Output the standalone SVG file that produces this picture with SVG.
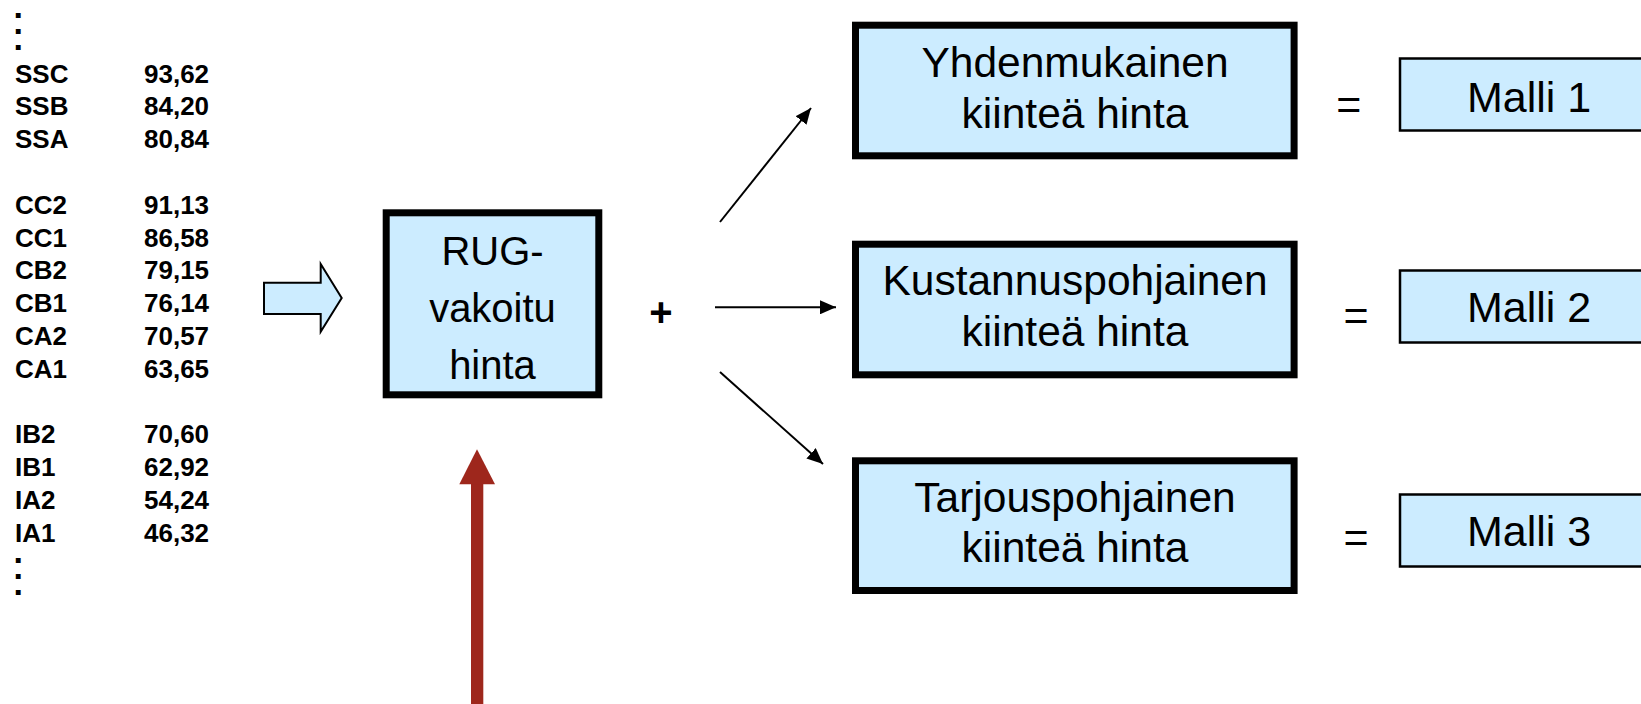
<svg xmlns="http://www.w3.org/2000/svg" width="1641" height="704" viewBox="0 0 1641 704">
  <defs>
    <style>
      .tbl { font-family: "Liberation Sans", Arial, sans-serif; font-weight: bold; font-size: 26px; fill: #000; }
      .dot { font-family: "Liberation Sans", Arial, sans-serif; font-weight: bold; font-size: 34px; fill: #000; }
      .lbl { font-family: "Liberation Sans", Arial, sans-serif; font-size: 42.5px; fill: #000; text-anchor: middle; }
      .rug { font-family: "Liberation Sans", Arial, sans-serif; font-size: 40px; fill: #000; text-anchor: middle; }
      .mdl { font-family: "Liberation Sans", Arial, sans-serif; font-size: 43px; fill: #000; }
      .sym { font-family: "Liberation Sans", Arial, sans-serif; font-size: 43px; fill: #000; text-anchor: middle; }
      .box { fill: #CCECFF; stroke: #000; stroke-width: 7; }
      .model { fill: #CCECFF; stroke: #000; stroke-width: 2.5; }
      .conn { stroke: #000; stroke-width: 2; fill: none; }
    </style>
    <marker id="head" markerUnits="userSpaceOnUse" markerWidth="17" markerHeight="14" refX="16" refY="7" orient="auto">
      <path d="M0,0 L16,7 L0,14 z" fill="#000"/>
    </marker>
  </defs>
  <rect width="1641" height="704" fill="#fff"/>

  <!-- price table -->
  <g id="price-table">
    <text class="dot"><tspan x="13.5" y="18.3">.</tspan><tspan x="13.5" y="34">.</tspan><tspan x="13.5" y="50">.</tspan></text>
    <text class="tbl" x="15" y="82.5">SSC</text><text class="tbl" x="144" y="82.5">93,62</text>
    <text class="tbl" x="15" y="115.3">SSB</text><text class="tbl" x="144" y="115.3">84,20</text>
    <text class="tbl" x="15" y="148.1">SSA</text><text class="tbl" x="144" y="148.1">80,84</text>
    <text class="tbl" x="15" y="213.7">CC2</text><text class="tbl" x="144" y="213.7">91,13</text>
    <text class="tbl" x="15" y="246.5">CC1</text><text class="tbl" x="144" y="246.5">86,58</text>
    <text class="tbl" x="15" y="279.3">CB2</text><text class="tbl" x="144" y="279.3">79,15</text>
    <text class="tbl" x="15" y="312.1">CB1</text><text class="tbl" x="144" y="312.1">76,14</text>
    <text class="tbl" x="15" y="344.9">CA2</text><text class="tbl" x="144" y="344.9">70,57</text>
    <text class="tbl" x="15" y="377.7">CA1</text><text class="tbl" x="144" y="377.7">63,65</text>
    <text class="tbl" x="15" y="443.3">IB2</text><text class="tbl" x="144" y="443.3">70,60</text>
    <text class="tbl" x="15" y="476.1">IB1</text><text class="tbl" x="144" y="476.1">62,92</text>
    <text class="tbl" x="15" y="508.9">IA2</text><text class="tbl" x="144" y="508.9">54,24</text>
    <text class="tbl" x="15" y="541.7">IA1</text><text class="tbl" x="144" y="541.7">46,32</text>
    <text class="dot"><tspan x="13.5" y="563">.</tspan><tspan x="13.5" y="579">.</tspan><tspan x="13.5" y="595">.</tspan></text>
  </g>

  <!-- RUG-weighted price -->
  <g id="rug-price">
    <rect class="box" x="386.2" y="212.8" width="212.6" height="182"/>
    <text class="rug" x="492.5" y="265">RUG-</text>
    <text class="rug" x="492.5" y="322">vakoitu</text>
    <text class="rug" x="492.5" y="379">hinta</text>
  </g>

  <!-- fixed price variants -->
  <g id="fixed-uniform">
    <rect class="box" x="855.5" y="25.2" width="438.6" height="130.6"/>
    <text class="lbl" x="1075" y="77.3">Yhdenmukainen</text>
    <text class="lbl" x="1075" y="128.3">kiinteä hinta</text>
  </g>
  <g id="fixed-cost">
    <rect class="box" x="855.5" y="244.2" width="438.6" height="130.6"/>
    <text class="lbl" x="1075" y="295">Kustannuspohjainen</text>
    <text class="lbl" x="1075" y="346">kiinteä hinta</text>
  </g>
  <g id="fixed-bid">
    <rect class="box" x="855.5" y="460.8" width="438.6" height="129.7"/>
    <text class="lbl" x="1075" y="511.7">Tarjouspohjainen</text>
    <text class="lbl" x="1075" y="561.7">kiinteä hinta</text>
  </g>

  <!-- resulting models -->
  <g id="model-1">
    <text class="sym" x="1348.7" y="118.8">=</text>
    <rect class="model" x="1400" y="58.5" width="300" height="72"/>
    <text class="mdl" x="1467" y="111.5">Malli 1</text>
  </g>
  <g id="model-2">
    <text class="sym" x="1356" y="330.2">=</text>
    <rect class="model" x="1400" y="270.5" width="300" height="72"/>
    <text class="mdl" x="1467" y="322">Malli 2</text>
  </g>
  <g id="model-3">
    <text class="sym" x="1356" y="552.2">=</text>
    <rect class="model" x="1400" y="494.5" width="300" height="72"/>
    <text class="mdl" x="1467" y="546">Malli 3</text>
  </g>

  <!-- plus sign -->
  <g id="plus">
    <text class="sym" x="661" y="326" style="font-size:40px;font-weight:bold">+</text>
  </g>

  <!-- connectors -->
  <g id="connectors">
    <polygon points="264,282.7 320.7,282.7 320.7,264 341.7,298 320.7,331.7 320.7,314 264,314" fill="#CCECFF" stroke="#000" stroke-width="2"/>
    <line class="conn" x1="720" y1="222" x2="811" y2="108" marker-end="url(#head)"/>
    <line class="conn" x1="715" y1="307.3" x2="836" y2="307.3" marker-end="url(#head)"/>
    <line class="conn" x1="720" y1="372" x2="823" y2="464" marker-end="url(#head)"/>
    <rect x="471" y="483" width="12.3" height="221" fill="#9E271C"/>
    <polygon points="459.3,484.3 477,449.3 495,484.3" fill="#9E271C"/>
  </g>
</svg>
